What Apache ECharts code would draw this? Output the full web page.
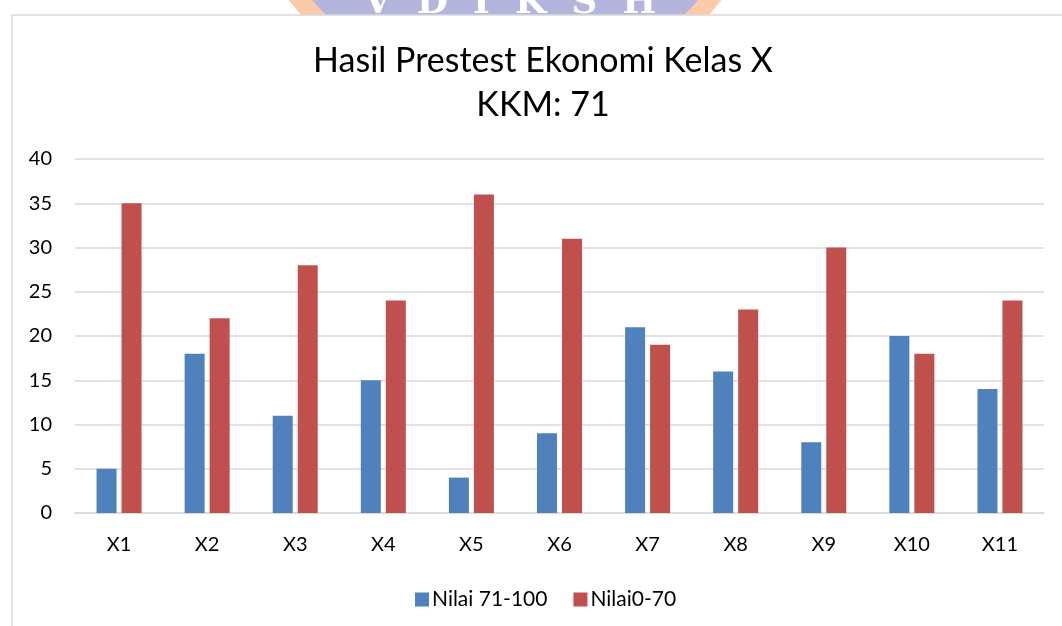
<!DOCTYPE html>
<html>
<head>
<meta charset="utf-8">
<script src="https://cdn.jsdelivr.net/npm/echarts@6/dist/echarts.min.js"></script>
<style>
html,body{margin:0;padding:0;background:#fff;}
#chart{width:1062px;height:626px;}
</style>
</head>
<body>
<div id="chart"></div>
<script>
const categories = ['X1','X2','X3','X4','X5','X6','X7','X8','X9','X10','X11'];
const nilaiTinggi = [5,18,11,15,4,9,21,16,8,20,14];
const nilaiRendah = [35,22,28,24,36,31,19,23,30,18,24];
const seriesNames = ['Nilai 71-100','Nilai0-70'];
const titleLines = ['Hasil Prestest Ekonomi Kelas X', 'KKM: 71'];

const chart = echarts.init(document.getElementById('chart'));
const font = 'Lato, "Open Sans", sans-serif';
const titleStyle = { fontFamily: font, fontSize: 34, fontWeight: 'normal', color: '#000' };
chart.setOption({
  animation: false,
  backgroundColor: '#ffffff',
  textStyle: { fontFamily: font },
  title: [
    { text: titleLines[0], left: 543, top: 44, textAlign: 'center', padding: 0, textStyle: titleStyle },
    { text: titleLines[1], left: 543, top: 88, textAlign: 'center', padding: 0, textStyle: titleStyle }
  ],
  graphic: [
    { type: 'circle', shape: { cx: 505, cy: -165, r: 263 }, style: { fill: '#b3b5dc', stroke: '#fbcaa8', lineWidth: 18 }, z: -30, silent: true },
    { type: 'text', style: { text: 'V  D  I  K  S  H', x: 510, y: 4, align: 'center', verticalAlign: 'middle', fill: '#ffffff', font: 'bold 36px "DejaVu Serif", serif' }, z: -29, silent: true },
    { type: 'rect', shape: { x: 12, y: 15, width: 1100, height: 700 }, style: { fill: '#ffffff', stroke: '#d9d9d9', lineWidth: 1.5 }, z: -20, silent: true }
  ],
  legend: {
    data: seriesNames,
    bottom: 11,
    left: 410,
    itemWidth: 14,
    itemHeight: 14,
    itemGap: 26,
    icon: 'rect',
    textStyle: { fontFamily: font, fontSize: 21, color: '#000', padding: [0,0,0,-2] }
  },
  grid: { left: 75, right: 18, top: 159, bottom: 113, containLabel: false },
  xAxis: {
    type: 'category',
    data: categories,
    axisLine: { show: true, lineStyle: { color: '#d9d9d9', width: 1.5 } },
    axisTick: { show: false },
    axisLabel: { color: '#000', fontSize: 20, fontFamily: font, margin: 22 }
  },
  yAxis: {
    type: 'value',
    min: 0, max: 40, interval: 5,
    axisLine: { show: false },
    axisTick: { show: false },
    splitLine: { lineStyle: { color: '#d9d9d9', width: 1.5 } },
    axisLabel: { color: '#000', fontSize: 20, fontFamily: font, margin: 23 }
  },
  series: [
    { name: seriesNames[0], type: 'bar', data: nilaiTinggi, barWidth: 20, barGap: '25%', itemStyle: { color: '#4f81bd' } },
    { name: seriesNames[1], type: 'bar', data: nilaiRendah, barWidth: 20, barGap: '25%', itemStyle: { color: '#c0504d' } }
  ]
});
</script>
</body>
</html>
